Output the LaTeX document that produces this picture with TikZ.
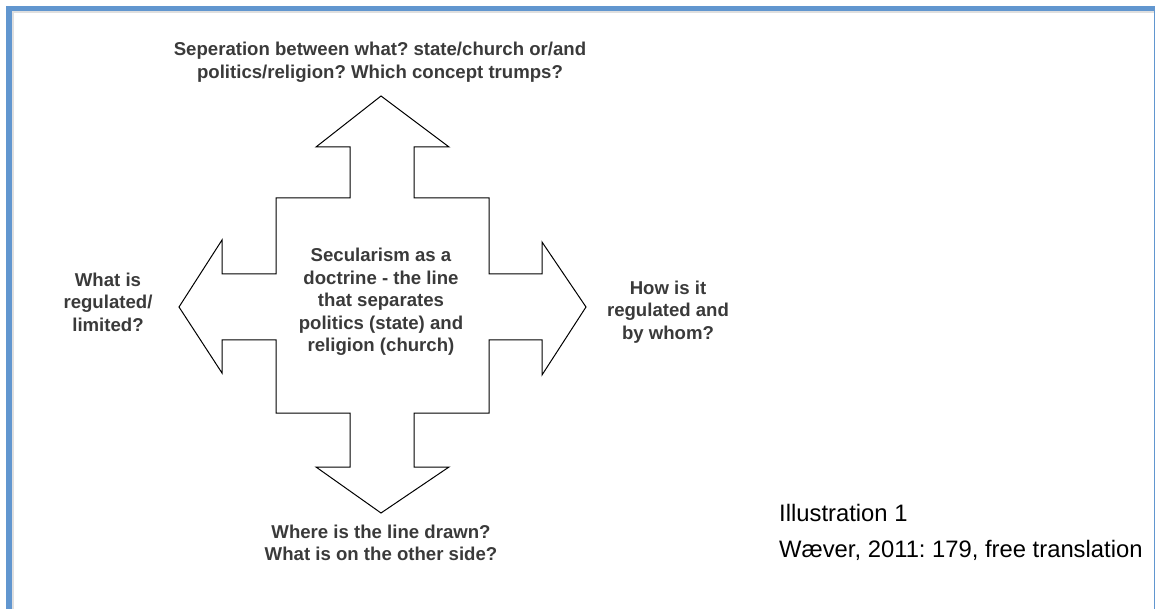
\documentclass[tikz,border=0pt]{standalone}
\usepackage{fontspec}
\setmainfont{Liberation Sans}
\frenchspacing
\definecolor{framecol}{HTML}{6196CF}
\definecolor{labelcol}{HTML}{3A3A3A}
\begin{document}
\begin{tikzpicture}[x=1pt,y=-1pt,
  lbl/.style={align=center,text=labelcol,font=\fontsize{18.6}{22.5}\selectfont\bfseries,inner sep=0pt},
  captext/.style={anchor=west,font=\fontsize{23.8}{28}\selectfont,inner sep=0pt}]
\useasboundingbox (0,0) rectangle (1159,609);
% frame
\fill[gray!25] (12,11) rectangle (1154,13);
\fill[gray!25] (12,11) rectangle (14,609);
\fill[framecol] (6,6) rectangle (1155,11);
\fill[framecol] (6,6) rectangle (12,609);
\fill[framecol] (1153.5,6) rectangle (1155,609);
% the four-way arrow
\draw[line width=1pt,line join=miter]
  (381,96) -- (449,147) -- (414,147) -- (414,198) -- (489,198) -- (489,274)
  -- (542,274) -- (542,242) -- (586,307) -- (542,375) -- (542,340) -- (489,340)
  -- (489,413) -- (414,413) -- (414,467) -- (449,467) -- (381,513) -- (316,467)
  -- (350,467) -- (350,413) -- (276,413) -- (276,340) -- (222,340) -- (222,373)
  -- (179,307) -- (222,240) -- (222,274) -- (276,274) -- (276,198) -- (350,198)
  -- (350,147) -- (316,147) -- cycle;
\node[lbl] (top) at (380,62) {Seperation between what? state/church or/and\\politics/religion? Which concept trumps?};
\node[lbl] (mid) at (381,302) {Secularism as a\\doctrine - the line\\that separates\\politics (state) and\\religion (church)};
\node[lbl] (left) at (108,302) {What is\\regulated/\\limited?};
\node[lbl] (right) at (668,312) {How is it\\regulated and\\by whom?};
\node[lbl] (bottom) at (381,543) {Where is the line drawn?\\What is on the other side?};
\node[captext] (ill) at (779,513) {Illustration 1};
\node[captext] (src) at (779,550) {Wæver, 2011: 179, free translation};
\end{tikzpicture}
\end{document}
